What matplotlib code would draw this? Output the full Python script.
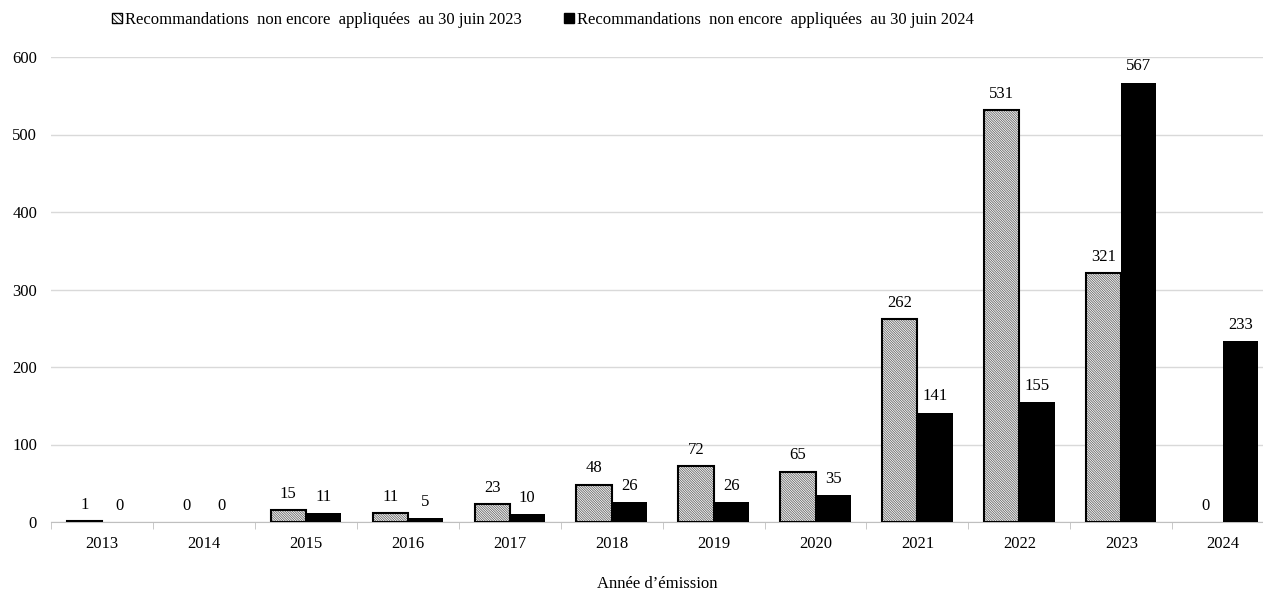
import numpy as np
import matplotlib.pyplot as plt
from matplotlib.patches import Patch

plt.rcParams['font.family'] = ['Liberation Serif', 'DejaVu Serif']
plt.rcParams['hatch.linewidth'] = 0.6

years = ["2013", "2014", "2015", "2016", "2017", "2018", "2019", "2020",
         "2021", "2022", "2023", "2024"]
reco_2023 = [1, 0, 15, 11, 23, 48, 72, 65, 262, 531, 321, 0]
reco_2024 = [0, 0, 11, 5, 10, 26, 26, 35, 141, 155, 567, 233]
label_2023 = "Recommandations  non encore  appliquées  au 30 juin 2023"
label_2024 = "Recommandations  non encore  appliquées  au 30 juin 2024"

fig = plt.figure(figsize=(12.63, 5.93), dpi=100)
ax = fig.add_axes([51 / 1263, 1 - 522 / 593, 1 - 51 / 1263, (522 - 57) / 593])

x = np.arange(len(years))
w = 0.345
fs = 12

# hatch fill (grey lines) then black outline on top
ax.bar(x - w / 2, reco_2023, w, facecolor="white", edgecolor="#666666",
       linewidth=0, hatch="\\" * 14, zorder=3)
b1 = ax.bar(x - w / 2, reco_2023, w, facecolor="none", edgecolor="black",
            linewidth=[1.5 if v > 0 else 0 for v in reco_2023], zorder=4)
b2 = ax.bar(x + w / 2, reco_2024, w, color="black", linewidth=0, zorder=3)

for bars, vals in [(b1, reco_2023), (b2, reco_2024)]:
    for bar, v in zip(bars, vals):
        ax.annotate(str(v), xy=(bar.get_x() + bar.get_width() / 2, bar.get_height()),
                    xytext=(0, 6), textcoords="offset points",
                    ha="center", va="bottom", fontsize=fs)

ax.set_ylim(0, 600)
ax.set_yticks(range(0, 601, 100))
ax.set_xlim(-0.5, 11.39)
ax.set_xticks(x)
ax.set_xticklabels(years, fontsize=fs)
ax.set_xticks(np.arange(-0.5, 11.5, 1), minor=True)
ax.tick_params(axis="x", which="major", length=0, pad=10)
ax.tick_params(axis="x", which="minor", length=5, color="#bfbfbf", direction="out")
ax.tick_params(axis="y", length=0, labelsize=fs, pad=10)
ax.grid(axis="y", color="#d9d9d9", linewidth=1, zorder=0)
for s in ["top", "right", "left"]:
    ax.spines[s].set_visible(False)
ax.spines["bottom"].set_color("#bfbfbf")

ax.set_xlabel("Année d’émission", fontsize=fs, labelpad=17)

handles = [Patch(facecolor="white", edgecolor="black", hatch="\\" * 6, label=label_2023),
           Patch(facecolor="black", edgecolor="black", label=label_2024)]
fig.legend(handles=handles, loc="center", bbox_to_anchor=(543 / 1263, 1 - 20 / 593),
           ncol=2, frameon=False, fontsize=fs, handlelength=0.6, handleheight=0.6,
           handletextpad=0.2, columnspacing=2.5)

fig.savefig("out.png", dpi=100)
